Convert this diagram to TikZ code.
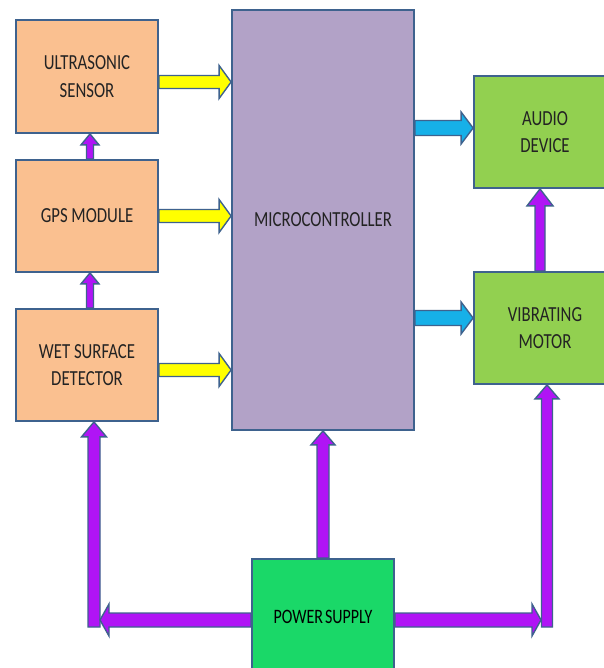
\documentclass[tikz,border=0pt]{standalone}
\usepackage{fontspec}
\setmainfont{Carlito}[FakeStretch=0.78]
\newfontfamily\psfont{Carlito}[FakeStretch=0.78]
\usetikzlibrary{calc}
\definecolor{bord}{RGB}{62,98,142}
\definecolor{orng}{RGB}{250,192,144}
\definecolor{mcpurple}{RGB}{178,162,199}
\definecolor{lgreen}{RGB}{146,208,80}
\definecolor{psgreen}{RGB}{26,216,104}
\definecolor{arrpurple}{RGB}{176,20,245}
\definecolor{arryellow}{RGB}{255,255,0}
\definecolor{arrblue}{RGB}{22,176,232}
\definecolor{txt}{RGB}{35,35,35}
\tikzset{
  box/.style={draw=bord,line width=1.8pt,rectangle,inner sep=0pt,align=center,
    text=txt,font=\fontsize{21.5}{27.5}\selectfont},
  arrbord/.style={draw=bord,line width=1.4pt,line join=miter},
}
\newcommand\blockarr[6]{%
  \draw[arrbord,fill=#6]
    ($(#1)!#3!-90:(#2)$) --
    ($(#2)!#5!(#1)!#3!-90:(#2)$) --
    ($(#2)!#5!(#1)!#4!-90:(#2)$) --
    (#2) --
    ($(#2)!#5!(#1)!#4!90:(#2)$) --
    ($(#2)!#5!(#1)!#3!90:(#2)$) --
    ($(#1)!#3!90:(#2)$) -- cycle;}
\begin{document}
\begin{tikzpicture}[x=1pt,y=-1pt]
\useasboundingbox (0,0) rectangle (603,668);
\fill[white] (0,0) rectangle (603,668);
% boxes
\node[box,fill=orng,minimum width=142pt,minimum height=113pt] (us) at (87,76.5) {ULTRASONIC\\SENSOR};
\node[box,fill=orng,minimum width=142pt,minimum height=112pt] (gps) at (87,216) {GPS MODULE};
\node[box,fill=orng,minimum width=142pt,minimum height=112pt] (wet) at (87,365) {WET SURFACE\\DETECTOR};
\node[box,fill=mcpurple,minimum width=182pt,minimum height=420pt] (mc) at (323,220) {MICROCONTROLLER};
\node[box,fill=lgreen,minimum width=142pt,minimum height=112pt] (aud) at (545,132) {AUDIO\\DEVICE};
\node[box,fill=lgreen,minimum width=142pt,minimum height=112pt] (vib) at (545,328) {VIBRATING\\MOTOR};
\node[box,fill=psgreen,minimum width=142pt,minimum height=116pt,font=\psfont\fontsize{20.5}{24}\selectfont,text=black] (ps) at (323,617) {POWER\hspace{-1.5pt} SUPPLY};
% coordinates
\coordinate (y1a) at (us.east |- 0,82);
\coordinate (y1b) at (mc.west |- 0,82);
\coordinate (y2a) at (gps.east |- 0,216);
\coordinate (y2b) at (mc.west |- 0,216);
\coordinate (y3a) at (wet.east |- 0,370);
\coordinate (y3b) at (mc.west |- 0,370);
\coordinate (b1a) at (mc.east |- 0,128);
\coordinate (b1b) at (aud.west |- 0,128);
\coordinate (b2a) at (mc.east |- 0,318);
\coordinate (b2b) at (vib.west |- 0,318);
\coordinate (g1a) at (gps.north -| 90,0);
\coordinate (g1b) at (us.south -| 90,0);
\coordinate (g2a) at (wet.north -| 90,0);
\coordinate (g2b) at (gps.south -| 90,0);
\coordinate (v1a) at (vib.north -| 540,0);
\coordinate (v1b) at (aud.south -| 540,0);
\coordinate (pcb) at (mc.south -| 323,0);
\coordinate (pca) at (ps.north -| 323,0);
\coordinate (pla) at (ps.west |- 0,620);
\coordinate (plt) at (100,620);
\coordinate (lva) at (94,627);
\coordinate (lvb) at (wet.south -| 94,0);
\coordinate (pra) at (ps.east |- 0,620);
\coordinate (prt) at (541,620);
\coordinate (rva) at (547,627);
\coordinate (rvb) at (vib.south -| 547,0);
% yellow arrows
\blockarr{y1a}{y1b}{6.5pt}{16.5pt}{12pt}{arryellow}
\blockarr{y2a}{y2b}{6.5pt}{16.5pt}{12pt}{arryellow}
\blockarr{y3a}{y3b}{6.5pt}{16.5pt}{12pt}{arryellow}
% blue arrows
\blockarr{b1a}{b1b}{7.5pt}{16pt}{12pt}{arrblue}
\blockarr{b2a}{b2b}{7.5pt}{16pt}{12pt}{arrblue}
% small purple arrows
\blockarr{g1a}{g1b}{3.5pt}{9pt}{11pt}{arrpurple}
\blockarr{g2a}{g2b}{3.5pt}{9pt}{11pt}{arrpurple}
\blockarr{v1a}{v1b}{5pt}{13pt}{17pt}{arrpurple}
% power arrows
\blockarr{pca}{pcb}{6pt}{12pt}{14pt}{arrpurple}
\blockarr{lva}{lvb}{6pt}{12.5pt}{15pt}{arrpurple}
\blockarr{rva}{rvb}{5.5pt}{12pt}{14pt}{arrpurple}
\blockarr{pla}{plt}{7pt}{16pt}{9pt}{arrpurple}
\blockarr{pra}{prt}{7pt}{16pt}{9pt}{arrpurple}
\end{tikzpicture}
\end{document}
